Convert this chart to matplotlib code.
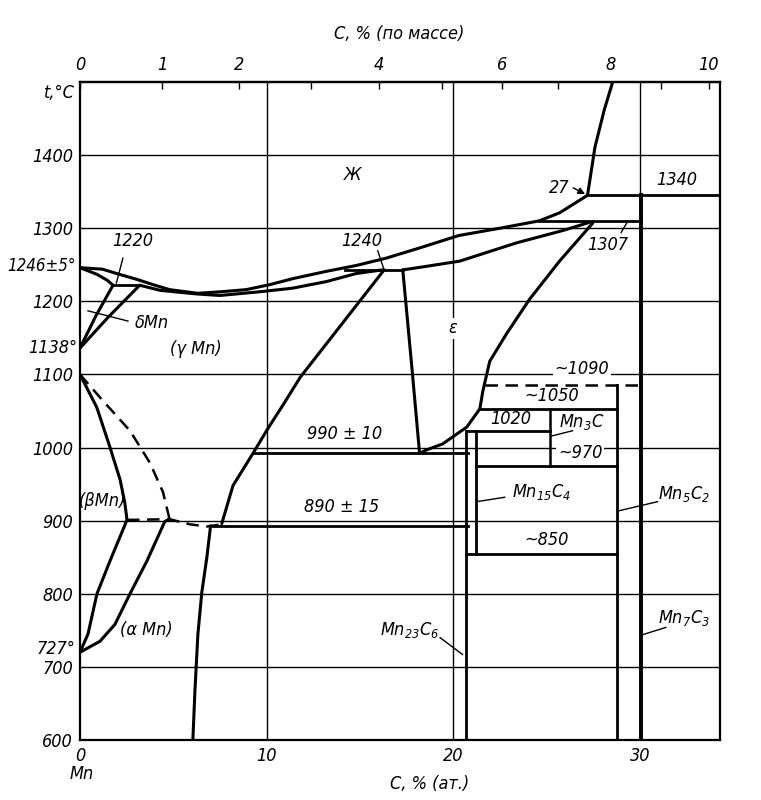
import numpy as np
import matplotlib
matplotlib.use('Agg')
import matplotlib.pyplot as plt
from matplotlib import font_manager

# narrow italic font like the drawing, if one is there
fonts = font_manager.fontManager.ttflist
names = {f.name for f in fonts}
cond = any(f.name == 'DejaVu Sans' and f.stretch == 'condensed' for f in fonts)
if 'Liberation Sans Narrow' in names:
    plt.rcParams['font.family'] = ['Liberation Sans Narrow', 'DejaVu Sans']
    fs = 14
elif cond:
    plt.rcParams['font.family'] = ['DejaVu Sans']
    plt.rcParams['font.stretch'] = 'condensed'
    fs = 13
else:
    plt.rcParams['font.family'] = ['DejaVu Sans']
    fs = 12
plt.rcParams['font.style'] = 'italic'
plt.rcParams['mathtext.default'] = 'regular'

# ---- data (C at.%, t in C) ----
liq_x = [0, 1.2, 2.1, 3.05, 3.9, 4.8, 6.3, 7.5, 8.9, 10.2, 11.4, 13.2, 14.8, 16.4, 18.2, 20.3, 22.5, 24.6, 25.7, 27.2]
liq_t = [1246, 1244, 1237, 1230, 1223, 1216, 1211, 1213, 1216, 1223, 1231, 1241, 1249, 1259, 1273, 1290, 1300, 1310, 1321, 1345]
gr_x = [27.2, 27.6, 28.1, 28.55]
gr_t = [1345, 1411, 1462, 1500]

dsol_x = [0, 0.9, 1.45, 1.77]
dsol_t = [1246, 1237, 1229, 1222]
gsol_x = [3.2, 4.3, 6.3, 7.5, 9.6, 11.4, 13.2, 14.8, 16.2]
gsol_t = [1222, 1215, 1210, 1208, 1213, 1218, 1227, 1238, 1243]
d1_x, d1_t = [0, 0.85, 1.77], [1136, 1180, 1222]
d2_x, d2_t = [0, 1.5, 3.2], [1136, 1178, 1222]

beta_x = [0, 0.9, 1.6, 2.15, 2.4, 2.52]
beta_t = [1100, 1055, 1001, 956, 925, 901]
beta_dx = [0, 1.23, 2.68, 3.75, 4.45, 4.8]
beta_dt = [1100, 1064, 1023, 979, 939, 902]
dip_x = [2.52, 4.8, 5.9, 6.8, 7.6]
dip_t = [901, 902, 895, 892, 895]
alA_x = [0, 0.43, 0.91, 1.61, 2.52]
alA_t = [720, 745, 800, 845, 901]
alB_x = [0, 1.07, 1.87, 2.68, 3.59, 4.55, 4.8]
alB_t = [720, 735, 758, 800, 845, 899, 902]
glow_x = [7.0, 6.8, 6.53, 6.32, 6.16, 6.05]
glow_t = [893, 850, 802, 745, 667, 600]

gam_x = [16.3, 11.8, 10.9, 10.07, 9.27, 8.2, 7.6]
gam_t = [1243, 1096, 1059, 1026, 992, 948, 896]
epsL_x = [17.3, 17.8, 18.2]
epsL_t = [1243, 1106, 992]
epsR_x = [27.48, 25.7, 24.1, 22.87, 21.96, 21.59, 21.43, 20.73, 19.44, 18.59, 18.2]
epsR_t = [1307, 1255, 1203, 1156, 1118, 1077, 1053, 1028, 1005, 997, 992]
epsS_x = [17.3, 18.6, 20.35, 23.4, 25.9, 27.3]
epsS_t = [1243, 1248, 1255, 1280, 1297, 1308]

# horizontal invariant lines: (x start, x end, t)
isotherms = [(1.77, 3.2, 1222), (14.2, 17.3, 1243), (24.6, 30.05, 1310), (27.2, 34.3, 1345),
             (9.27, 20.8, 992), (7.0, 20.8, 893), (20.73, 25.2, 1023), (21.43, 28.8, 1053),
             (21.25, 28.8, 975), (20.7, 28.8, 854)]
# compounds: (x, t low, t high, width)
compounds = [(20.7, 600, 1023, 2.0), (21.25, 854, 1023, 2.0), (25.2, 975, 1053, 1.8),
             (28.8, 600, 1086, 2.0), (30.05, 600, 1345, 2.8)]
dash1090 = (21.7, 30.05, 1086)

t_ticks = [600, 700, 800, 900, 1000, 1100, 1200, 1300, 1400]
x_ticks = [0, 10, 20, 30]
mass_ticks = list(range(11))
mass_labels = ['0', '1', '2', '', '4', '', '6', '', '8', '', '10']


def mass_to_at(w):
    w = np.asarray(w, float)
    c = w / 12.011
    m = (100 - w) / 54.938
    return 100 * c / (c + m)


def at_to_mass(a):
    a = np.asarray(a, float)
    return 100 * a * 12.011 / (a * 12.011 + (100 - a) * 54.938)


fig = plt.figure(figsize=(7.61, 8.0), dpi=100)
ax = fig.add_axes([0.1051, 0.075, 0.8410, 0.8225])
ax.set_xlim(0, 34.3)
ax.set_ylim(600, 1500)

# grid
for t in t_ticks[1:]:
    ax.axhline(t, color='k', lw=1.0, zorder=1)
for x in x_ticks[1:]:
    ax.axvline(x, color='k', lw=1.0, zorder=1)

lw = 2.2
k = dict(color='k', lw=lw, solid_capstyle='round', solid_joinstyle='round', zorder=3)
for xs, ts in [(liq_x, liq_t), (gr_x, gr_t), (dsol_x, dsol_t), (gsol_x, gsol_t),
               (d1_x, d1_t), (d2_x, d2_t), (beta_x, beta_t), (alA_x, alA_t),
               (alB_x, alB_t), (glow_x, glow_t), (gam_x, gam_t), (epsL_x, epsL_t),
               (epsR_x, epsR_t), (epsS_x, epsS_t)]:
    ax.plot(xs, ts, **k)

dk = dict(color='k', lw=1.8, ls=(0, (5, 3)), zorder=3)
ax.plot(beta_dx, beta_dt, **dk)
ax.plot(dip_x, dip_t, **dk)
ax.plot([dash1090[0], dash1090[1]], [dash1090[2]] * 2, **dk)

for x0, x1, t in isotherms:
    ax.plot([x0, x1], [t, t], color='k', lw=2.0, zorder=3)
for x, t0, t1, w in compounds:
    ax.plot([x, x], [t0, t1], color='k', lw=w, zorder=3)

# leaders
leaders = [((2.3, 1259), (1.95, 1225)), ((0.43, 1187), (2.57, 1173)),
           ((15.96, 1269), (16.3, 1243)), ((29.0, 1294), (29.3, 1307)),
           ((25.3, 1016), (26.4, 1023)), ((21.26, 926), (22.76, 932)),
           ((28.8, 913), (30.96, 926)), ((30.15, 744), (31.4, 754)),
           ((19.3, 740), (20.5, 717))]
for (xa, ta), (xb, tb) in leaders:
    ax.plot([xa, xb], [ta, tb], color='k', lw=1.0, zorder=3)
ax.annotate('', xy=(27.2, 1345), xytext=(26.3, 1357),
            arrowprops=dict(arrowstyle='-|>', color='k', lw=1.0, mutation_scale=10))

wb = dict(fc='white', ec='none', pad=1.0)
labels = [
    (14.6, 1373, 'Ж', None),
    (20.0, 1163, 'ε', wb),
    (2.8, 1282, '1220', None),
    (15.1, 1283, '1240', None),
    (28.3, 1277, '1307', None),
    (25.7, 1355, '27', None),
    (32.0, 1366, '1340', None),
    (3.86, 1170, 'δMn', None),
    (6.2, 1135, '(γ Mn)', None),
    (1.2, 927, '(βMn)', None),
    (3.54, 750, '(α Mn)', None),
    (14.2, 1019, '990 ± 10', None),
    (14.0, 919, '890 ± 15', None),
    (26.9, 1108, '~1090', wb),
    (25.3, 1070, '~1050', None),
    (23.1, 1039, '1020', None),
    (26.9, 1035, 'Mn$_3$C', None),
    (26.8, 993, '~970', wb),
    (24.75, 939, 'Mn$_{15}$C$_4$', None),
    (25.0, 873, '~850', None),
    (32.4, 937, 'Mn$_5$C$_2$', None),
    (32.4, 767, 'Mn$_7$C$_3$', None),
    (17.7, 751, 'Mn$_{23}$C$_6$', None),
]
for x, t, s, bb in labels:
    ax.text(x, t, s, ha='center', va='center', fontsize=fs, zorder=4, bbox=bb)

# outside labels
ax.text(-0.2, 1248, '1246±5°', ha='right', va='center', fontsize=fs - 0.8, clip_on=False)
ax.text(-0.15, 1136, '1138°', ha='right', va='center', fontsize=fs, clip_on=False)
ax.text(-0.25, 724, '727°', ha='right', va='center', fontsize=fs, clip_on=False)
ax.text(-0.25, 1485, 't,°C', ha='right', va='center', fontsize=fs, clip_on=False)
ax.text(0.1, 553, 'Mn', ha='center', va='center', fontsize=fs, clip_on=False)
ax.text(18.75, 540, 'C, % (ат.)', ha='center', va='center', fontsize=fs, clip_on=False)
ax.text(17.1, 1565, 'C, % (по массе)', ha='center', va='center', fontsize=fs, clip_on=False)

ax.set_xticks(x_ticks)
ax.set_yticks(t_ticks)
ax.tick_params(length=0, labelsize=fs, pad=5)
for s in ax.spines.values():
    s.set_linewidth(1.6)

top = ax.secondary_xaxis('top', functions=(at_to_mass, mass_to_at))
top.set_xticks(mass_ticks)
top.set_xticklabels(mass_labels)
top.tick_params(direction='in', length=5, width=1.0, labelsize=fs, pad=6)
top.spines['top'].set_linewidth(1.6)

fig.savefig('out.png', dpi=100)
